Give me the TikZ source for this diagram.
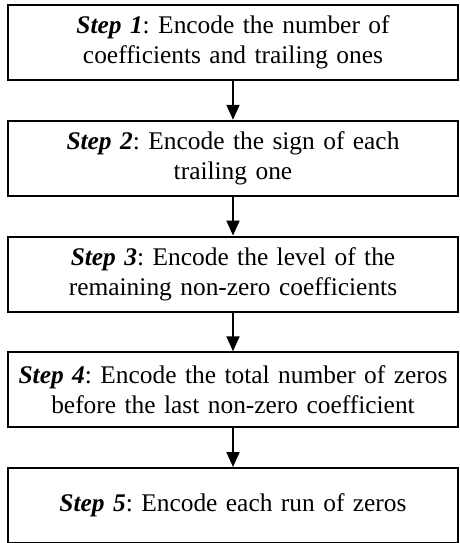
\documentclass[tikz,border=0pt]{standalone}
\usepackage{fontspec}
\setmainfont{Liberation Serif}
\usetikzlibrary{arrows.meta}
\frenchspacing

\begin{document}
\begin{tikzpicture}[-{Triangle[width=6.5pt,length=7.5pt]},line width=1pt,
	stepbox/.style={draw,rectangle,minimum width=225pt,minimum height=37.5pt,
		text width=223pt,align=center,inner sep=0.5pt,
		font=\fontsize{12.7}{15.2}\selectfont}]
	\useasboundingbox	(0pt,0pt)	rectangle	(230pt,271.5pt);

	\node[stepbox]	(1)	at	(116.5pt,250.25pt)	{\textbf{\textit{Step 1}}: Encode the number of\\ coefficients and trailing ones};
	\node[stepbox]	(2)	at	(116.5pt,192.375pt)	{\textbf{\textit{Step 2}}: Encode the sign of each\\ trailing one};
	\node[stepbox]	(3)	at	(116.5pt,134.5pt)	{\textbf{\textit{Step 3}}: Encode the level of the\\ remaining non-zero coefficients};
	\node[stepbox]	(4)	at	(116.5pt,76.625pt)	{\textbf{\textit{Step 4}}: Encode the total number of zeros\\ before the last non-zero coefficient};
	\node[stepbox]	(5)	at	(116.5pt,18.75pt)	{\textbf{\textit{Step 5}}: Encode each run of zeros};

	\path	(1)	edge	(2);
	\path	(2)	edge	(3);
	\path	(3)	edge	(4);
	\path	(4)	edge	(5);
\end{tikzpicture}
\end{document}
